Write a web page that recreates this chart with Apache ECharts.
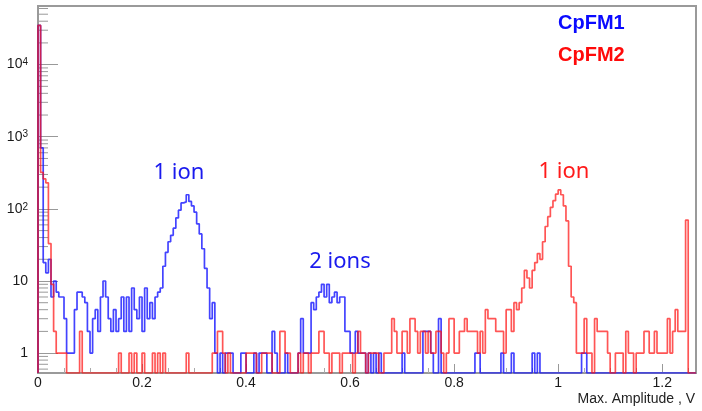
<!DOCTYPE html>
<html><head><meta charset="utf-8">
<script src="https://cdn.jsdelivr.net/npm/echarts@6/dist/echarts.min.js"></script>
<style>html,body{margin:0;padding:0;background:#fff}#c{width:702px;height:411px}</style>
</head><body><div id="c"></div>
<script>
// ---- data ----
const BIN_WIDTH = 0.005;          // V per bin, bins start at 0
const X_MAX = 1.265;
const Y_MIN = 0.53, Y_MAX = 65000;
const xTickLabels = ['0', '0.2', '0.4', '0.6', '0.8', '1', '1.2'];
const yTickLabels = ['1', '10', '10^2', '10^3', '10^4'];
const yMinorTicks = [0.6, 0.7, 0.8, 0.9, 2, 3, 4, 5, 6, 7, 8, 9, 20, 30, 40, 50, 60, 70, 80, 90,
  200, 300, 400, 500, 600, 700, 800, 900, 2000, 3000, 4000, 5000, 6000, 7000, 8000, 9000,
  20000, 30000, 40000, 50000, 60000];
const seriesNames = ['CpFM1', 'CpFM2'];
const annotations = ['1 ion', '2 ions', '1 ion'];

// counts per bin (0 = empty bin)
const cpfm1Counts = [
  35000, 700, 18, 13, 20, 6, 10, 7, 6, 6,
  3, 1, 1, 1, 4, 7, 7, 6, 5, 2,
  1, 3, 4, 2, 6, 10, 6, 3, 2, 4,
  2, 3, 6, 2, 6, 2, 8, 4, 3, 6,
  2, 8, 3, 5, 3, 6, 7, 8, 16, 25,
  35, 43, 54, 75, 96, 121, 125, 157, 127, 110,
  90, 62, 45, 28, 15, 8, 3, 5, 1, 0,
  1, 0, 1, 1, 1, 0, 0, 0, 1, 1,
  0, 0, 0, 1, 0, 1, 1, 1, 0, 0,
  2, 1, 0, 0, 0, 1, 0, 0, 0, 0,
  1, 3, 1, 1, 1, 5, 4, 6, 7, 9,
  6, 9, 5, 6, 7, 5, 6, 6, 2, 2,
  1, 1, 2, 1, 1, 1, 0, 1, 0, 1,
  0, 1, 0, 0, 0, 0, 0, 0, 0, 0,
  1, 0, 0, 0, 0, 0, 0, 0, 2, 2,
  2, 1, 0, 0, 3, 0, 0, 0, 0, 0,
  0, 0, 0, 0, 0, 0, 0, 0, 1, 1,
  0, 0, 0, 0, 0, 0, 0, 0, 1, 0,
  0, 0, 1, 0, 0, 0, 0, 0, 0, 0,
  1, 0, 1, 0, 0, 0, 0, 0, 0, 0,
  0, 0, 0, 0, 0, 0, 0, 0, 0, 1,
  1, 0, 0, 0, 0, 0, 0, 0, 0, 0,
  0, 0, 0, 0, 0, 0, 0, 0, 0, 0,
  0, 0, 0, 0, 0, 0, 0, 0, 0, 0,
  0, 0, 0, 0, 0, 0, 0, 0, 0, 0,
  0, 0, 0
];
const cpfm2Counts = [
  35000, 320, 260, 230, 33, 9, 2, 1, 1, 1,
  1, 0, 0, 0, 0, 0, 2, 0, 0, 0,
  0, 0, 0, 0, 0, 0, 0, 0, 0, 0,
  0, 1, 0, 0, 0, 1, 0, 1, 0, 0,
  1, 0, 0, 0, 1, 0, 1, 0, 1, 0,
  0, 0, 0, 0, 0, 0, 0, 1, 0, 0,
  0, 0, 0, 0, 0, 0, 0, 1, 1, 2,
  2, 1, 0, 1, 0, 0, 0, 0, 0, 0,
  1, 1, 1, 1, 0, 0, 1, 1, 1, 1,
  0, 0, 0, 2, 2, 1, 1, 0, 0, 0,
  1, 0, 1, 1, 0, 1, 1, 1, 2, 2,
  1, 1, 0, 1, 1, 1, 0, 1, 1, 1,
  1, 0, 1, 2, 1, 1, 0, 1, 1, 1,
  1, 0, 0, 1, 1, 1, 3, 2, 1, 1,
  2, 2, 1, 3, 3, 2, 1, 2, 2, 1,
  2, 1, 1, 2, 2, 1, 0, 1, 3, 3,
  1, 1, 2, 2, 3, 2, 2, 2, 2, 1,
  2, 1, 4, 3, 3, 3, 2, 2, 2, 1,
  4, 4, 2, 5, 4, 5, 8, 14, 11, 8,
  14, 18, 24, 20, 35, 57, 78, 105, 130, 160,
  183, 157, 110, 68, 16, 6, 5, 1, 1, 1,
  3, 1, 1, 0, 3, 2, 2, 2, 2, 1,
  0, 0, 1, 1, 1, 0, 2, 1, 1, 0,
  1, 1, 1, 2, 2, 1, 1, 2, 1, 1,
  1, 1, 3, 1, 2, 4, 2, 2, 2, 70,
  0, 0, 0
];

// ---- build step data (bin edges) ----
function stepData(counts) {
  const d = [[0, Y_MIN]];
  const val = c => (c > 0 ? c : Y_MIN);
  for (let i = 0; i < counts.length; i++) d.push([+(i * BIN_WIDTH).toFixed(4), val(counts[i])]);
  const end = +(counts.length * BIN_WIDTH).toFixed(4);
  d.push([end, val(counts[counts.length - 1])]);
  d.push([end, Y_MIN]);
  return d;
}

const AXIS_FONT = '"Liberation Sans", Arial, Helvetica, sans-serif';
const chart = echarts.init(document.getElementById('c'), null, { renderer: 'canvas' });
const supMap = { '10^2': '2', '10^3': '3', '10^4': '4' };

chart.setOption({
  animation: false,
  backgroundColor: '#fff',
  grid: { left: 38, right: 6, top: 6, bottom: 38, show: true, borderColor: '#9a9a9a', borderWidth: 2, backgroundColor: 'transparent' },
  xAxis: {
    type: 'value', min: 0, max: X_MAX, interval: 0.2,
    axisLine: { show: true, lineStyle: { color: '#9a9a9a', width: 2 } },
    axisTick: { show: true, inside: true, length: 9, lineStyle: { color: '#999' } },
    minorTick: { show: true, splitNumber: 4, length: 5, lineStyle: { color: '#aaa' } },
    splitLine: { show: false },
    axisLabel: {
      margin: 3, color: '#1a1a1a', fontSize: 14, fontFamily: AXIS_FONT, showMaxLabel: false,
      formatter: v => { const k = Math.round(v / 0.2); return Math.abs(v - k * 0.2) < 1e-6 && xTickLabels[k] !== undefined ? xTickLabels[k] : ''; }
    }
  },
  yAxis: {
    type: 'log', logBase: 10, min: Y_MIN, max: Y_MAX,
    axisLine: { show: true, lineStyle: { color: '#9a9a9a', width: 2 } },
    axisTick: { show: true, inside: true, length: 20, lineStyle: { color: '#999' } },
    splitLine: { show: false },
    axisLabel: {
      margin: 10, color: '#1a1a1a', fontSize: 14, fontFamily: AXIS_FONT, showMinLabel: false, showMaxLabel: false,
      formatter: v => {
        const l = Math.log10(v), e = Math.round(l);
        if (Math.abs(l - e) > 1e-6 || e < 0 || e >= yTickLabels.length) return '';
        const t = yTickLabels[e];
        return supMap[t] ? '{b|10}{s|' + supMap[t] + '}' : '{b|' + t + '}';
      },
      rich: {
        b: { fontSize: 14, fontFamily: AXIS_FONT, color: '#1a1a1a' },
        s: { fontSize: 10, fontFamily: AXIS_FONT, color: '#1a1a1a', verticalAlign: 'top' }
      }
    }
  },
  series: [
    {
      type: 'custom', silent: true, z: 1,
      data: yMinorTicks.map(v => [0, v]),
      renderItem: (params, api) => {
        const p = api.coord([0, api.value(1)]);
        return { type: 'line', shape: { x1: p[0], y1: p[1], x2: p[0] + 10, y2: p[1] }, style: { stroke: '#999', lineWidth: 1 } };
      }
    },
    {
      name: seriesNames[0], type: 'line', step: 'end', showSymbol: false, z: 3,
      data: stepData(cpfm1Counts),
      lineStyle: { color: 'rgba(20,20,255,0.8)', width: 1.7 }
    },
    {
      name: seriesNames[1], type: 'line', step: 'end', showSymbol: false, z: 4,
      data: stepData(cpfm2Counts),
      lineStyle: { color: 'rgba(255,20,20,0.72)', width: 1.7 }
    }
  ],
  graphic: [
    { type: 'text', x: 558, y: 23, style: { text: seriesNames[0], fill: '#0a0aff', font: 'bold 20px "Liberation Sans", Arial, sans-serif', align: 'left', verticalAlign: 'middle' } },
    { type: 'text', x: 558, y: 55, style: { text: seriesNames[1], fill: '#ff0a0a', font: 'bold 20px "Liberation Sans", Arial, sans-serif', align: 'left', verticalAlign: 'middle' } },
    { type: 'text', x: 179, y: 173, style: { text: annotations[0], fill: '#1a1aee', font: '22px "Noto Sans", sans-serif', align: 'center', verticalAlign: 'middle' } },
    { type: 'text', x: 340, y: 262, style: { text: annotations[1], fill: '#1a1aee', font: '22px "Noto Sans", sans-serif', align: 'center', verticalAlign: 'middle' } },
    { type: 'text', x: 564, y: 172, style: { text: annotations[2], fill: '#ff1a1a', font: '22px "Noto Sans", sans-serif', align: 'center', verticalAlign: 'middle' } },
    { type: 'text', x: 695, y: 399, style: { text: 'Max. Amplitude , V', fill: '#222', font: '14px "Liberation Sans", Arial, sans-serif', align: 'right', verticalAlign: 'middle' } }
  ]
});
</script>
</body></html>
